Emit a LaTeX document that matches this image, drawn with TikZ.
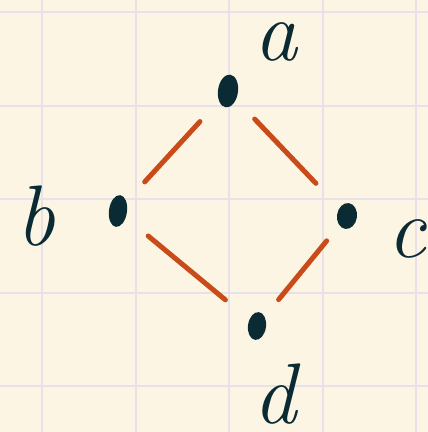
\documentclass[tikz,border=0pt]{standalone}
\definecolor{paper}{HTML}{FDF5E3}
\definecolor{gridc}{HTML}{E9E1EA}
\definecolor{ink}{HTML}{0B2B34}
\definecolor{edgec}{HTML}{C94B19}
\tikzset{
  dot/.style={ellipse, fill=ink, inner sep=0pt},
  lbl/.style={text=ink, font=\fontsize{86}{86}\selectfont\itshape, inner sep=0pt},
  edge/.style={draw=edgec, line width=5pt, line cap=round},
}
\usetikzlibrary{shapes.geometric}
\begin{document}
\begin{tikzpicture}[x=1pt,y=-1pt]
\fill[paper] (0,0) rectangle (428,432);
\useasboundingbox (0,0) rectangle (428,432);
\foreach \x in {42,135.5,229,322.5,416} \draw[gridc, line width=2pt] (\x,0) -- (\x,432);
\foreach \y in {12,106,199,292.5,386} \draw[gridc, line width=2pt] (0,\y) -- (428,\y);
\node[dot, minimum width=20pt, minimum height=33pt, rotate=-8] (a) at (228,91) {};
\node[dot, minimum width=18pt, minimum height=32pt, rotate=-8] (b) at (118,211) {};
\node[dot, minimum width=20pt, minimum height=26pt, rotate=-8] (c) at (347,216) {};
\node[dot, minimum width=18pt, minimum height=28pt, rotate=-8] (d) at (257,326) {};
\node[lbl] (la) at (276,42) {a};
\node[lbl] (lb) at (36,216) {b};
\node[lbl] (lc) at (407,239) {c};
\node[lbl] (ld) at (275,394) {d};
\draw[edge, shorten <=28pt, shorten >=27pt] (a) -- (b);
\draw[edge, shorten <=27pt, shorten >=34pt] (a) -- (c);
\draw[edge, shorten <=29pt, shorten >=31pt] (b) -- (d);
\draw[edge, shorten <=20pt, shorten >=22pt] (c) -- (d);
\end{tikzpicture}
\end{document}
